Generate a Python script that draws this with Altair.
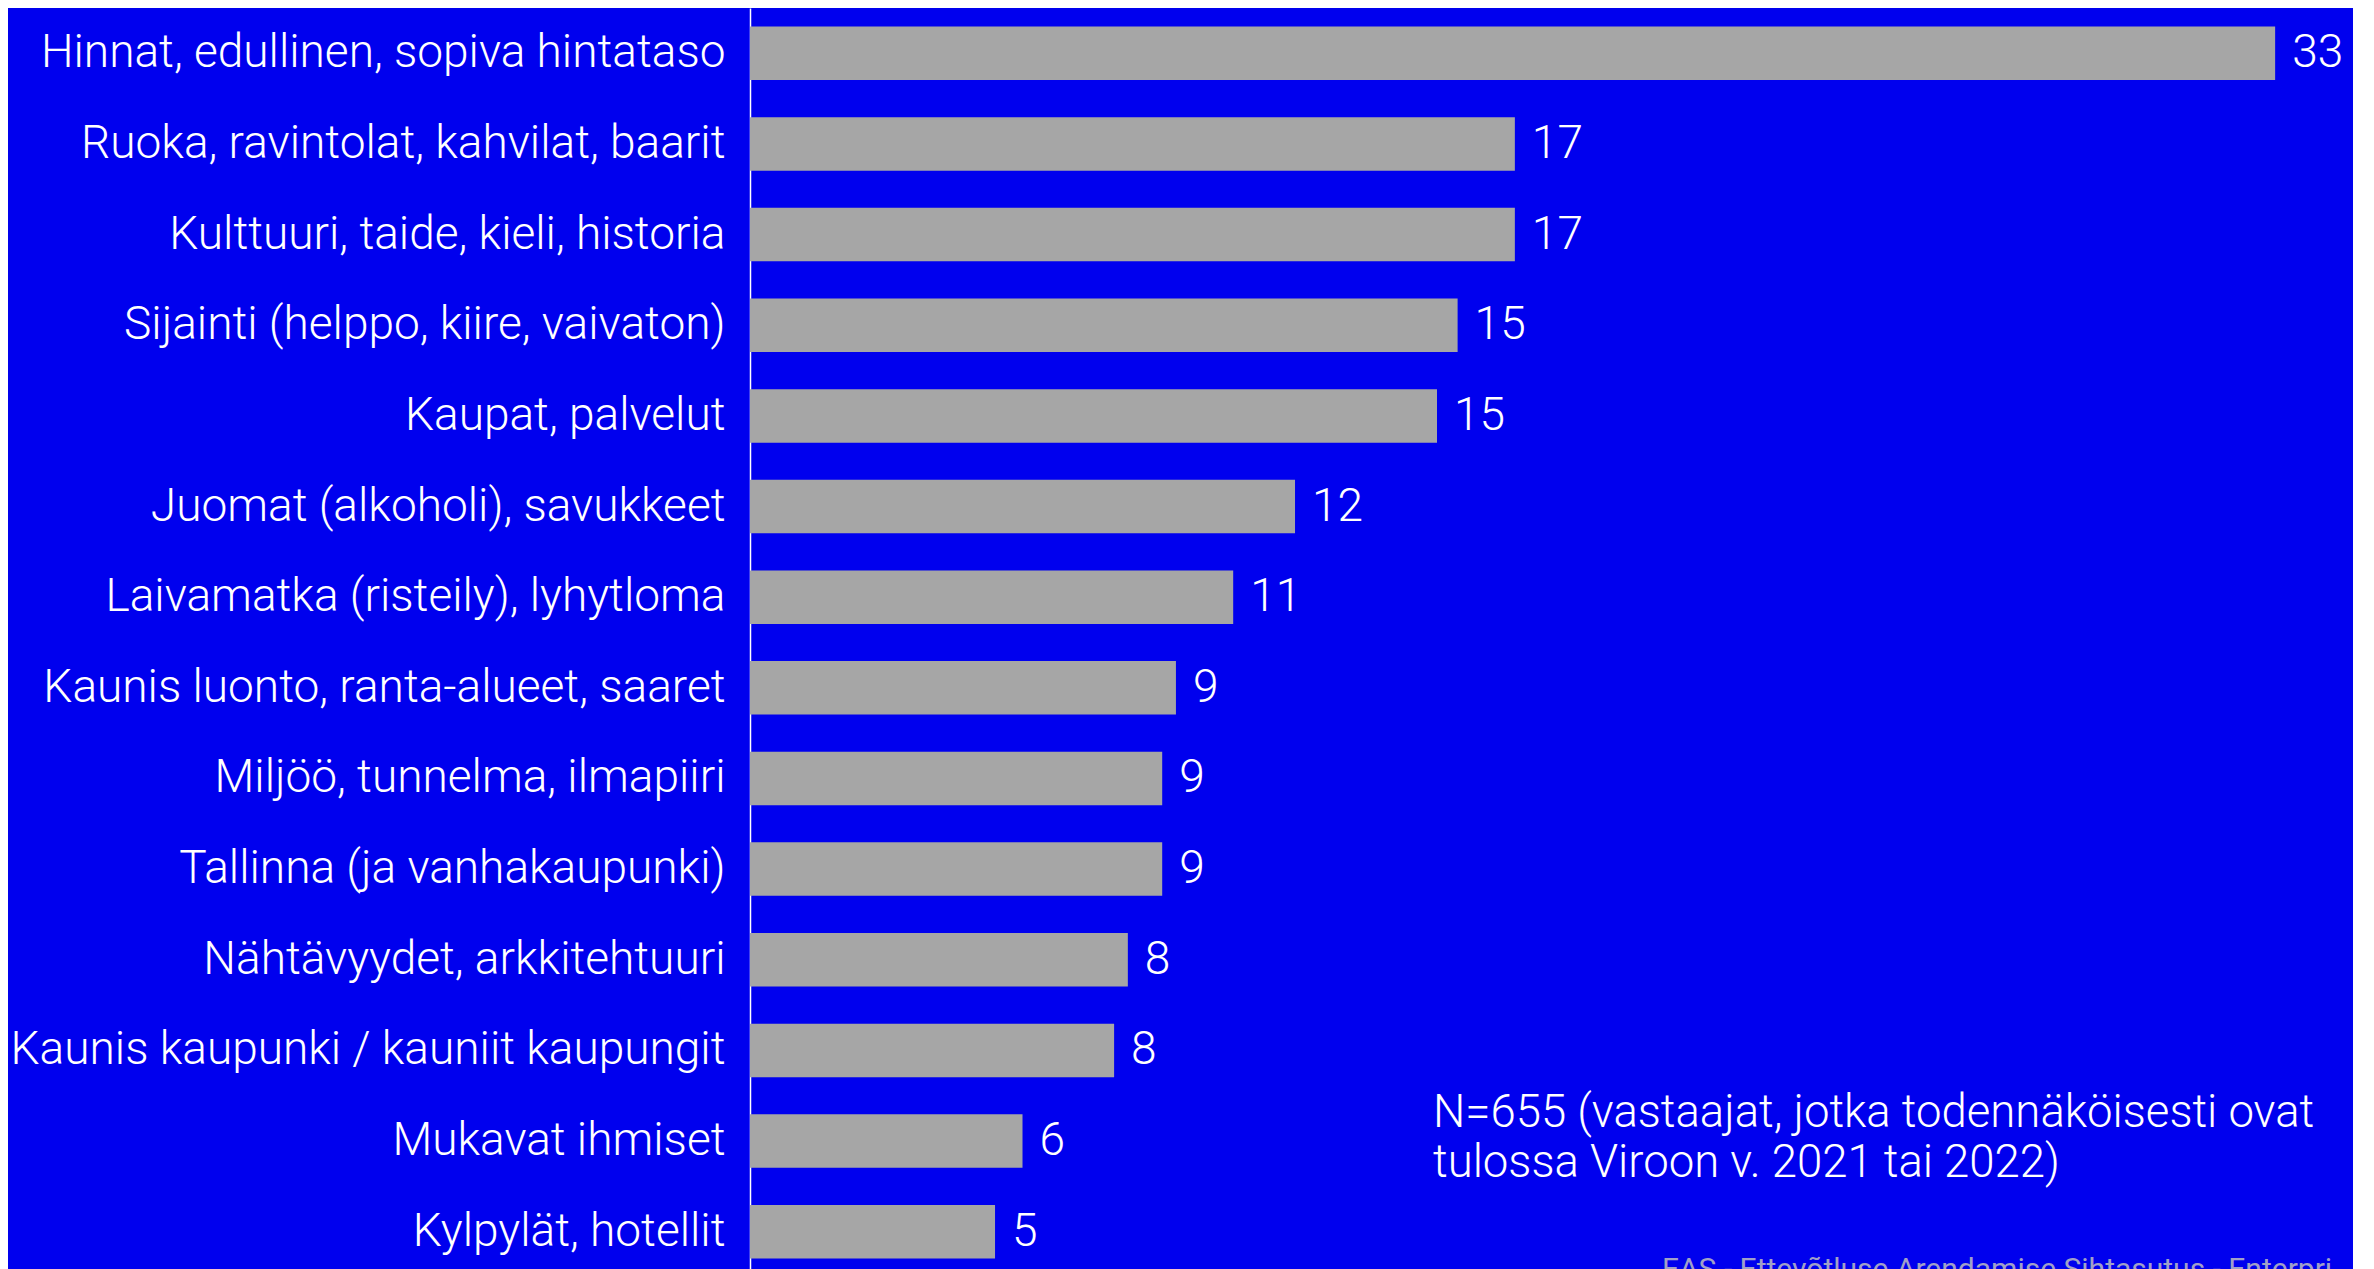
import altair as alt
import pandas as pd

categories = [
    "Hinnat, edullinen, sopiva hintataso",
    "Ruoka, ravintolat, kahvilat, baarit",
    "Kulttuuri, taide, kieli, historia",
    "Sijainti (helppo, kiire, vaivaton)",
    "Kaupat, palvelut",
    "Juomat (alkoholi), savukkeet",
    "Laivamatka (risteily), lyhytloma",
    "Kaunis luonto, ranta-alueet, saaret",
    "Miljöö, tunnelma, ilmapiiri",
    "Tallinna (ja vanhakaupunki)",
    "Nähtävyydet, arkkitehtuuri",
    "Kaunis kaupunki / kauniit kaupungit",
    "Mukavat ihmiset",
    "Kylpylät, hotellit",
]
values = [33.3, 16.7, 16.7, 15.45, 15.0, 11.9, 10.55, 9.3, 9.0, 9.0, 8.25, 7.95, 5.95, 5.35]

note_lines = ["N=655 (vastaajat, jotka todennäköisesti ovat", "tulossa Viroon v. 2021 tai 2022)"]
footer = "EAS - Ettevõtluse Arendamise Sihtasutus - Enterprise Estonia"

df = pd.DataFrame({"cat": categories, "val": values})

FONT = "Roboto"
FW = 300
FS = 46
W = 1603
H = 1269

y = alt.Y(
    "cat:N",
    sort=categories,
    title=None,
    scale=alt.Scale(paddingInner=0.41, paddingOuter=0.205),
    axis=alt.Axis(
        domain=True, domainColor="white", domainWidth=1.5,
        ticks=False, grid=False,
        labelColor="white", labelFont=FONT, labelFontSize=FS, labelFontWeight=FW,
        labelPadding=25, labelLimit=0,
        minExtent=741.5, maxExtent=741.5,
    ),
)
x = alt.X("val:Q", title=None, axis=None, scale=alt.Scale(domain=[0, 35], nice=False))

base = alt.Chart(df)
bars = base.mark_bar(color="#a6a6a6").encode(x=x, y=y)
labels = base.mark_text(
    align="left", baseline="middle", dx=17, color="white", font=FONT, fontSize=FS, fontWeight=FW
).encode(x=x, y=y, text=alt.Text("val:Q", format=".0f"))

note = alt.Chart(pd.DataFrame({"t": [note_lines]})).mark_text(
    align="left", baseline="alphabetic", color="white", font=FONT, fontSize=45.5,
    fontWeight=FW, lineHeight=50
).encode(x=alt.value(683), y=alt.value(1119), text="t")

foot = alt.Chart(pd.DataFrame({"t": [footer]})).mark_text(
    align="left", baseline="alphabetic", color="#a0a0c8", font=FONT, fontSize=30,
    limit=700, ellipsis=""
).encode(x=alt.value(912), y=alt.value(1271), text="t")

chart = (
    alt.layer(bars, labels, note, foot)
    .properties(width=W, height=H, padding=0, background="#0000ee")
    .configure_view(stroke=None)
)

chart.save("out.html", embed_options={"renderer": "svg", "actions": False})
